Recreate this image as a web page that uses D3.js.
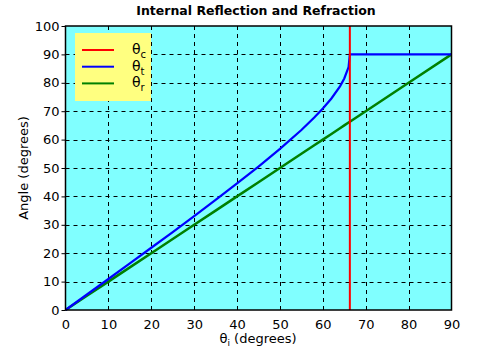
<!DOCTYPE html>
<html><head><meta charset="utf-8">
<script src="https://cdn.jsdelivr.net/npm/d3@7"></script>
<style>body{margin:0;background:#fff}svg{display:block;font-family:"DejaVu Sans",Verdana,sans-serif}</style>
</head><body><svg id="c" width="500" height="350"></svg>
<script>
const xTicks = [0,10,20,30,40,50,60,70,80,90];
const yTicks = [0,10,20,30,40,50,60,70,80,90,100];
const criticalAngle = 66.3;
const incidentAngles = [0,5,10,15,20,25,30,35,40,45,50,55,58,60,62,64,65,66,66.3,70,80,90];
const transmittedAngles = [0,5.46,10.92,16.41,21.92,27.46,33.07,38.75,44.55,50.5,56.71,63.38,67.75,70.94,74.47,78.76,81.52,85.53,90,90,90,90];
const reflectedAngles = [0,5,10,15,20,25,30,35,40,45,50,55,58,60,62,64,65,66,66.3,70,80,90];
const legendLabels = [{sym:"θ",sub:"c",color:"#ff0000"},{sym:"θ",sub:"t",color:"#0000ff"},{sym:"θ",sub:"r",color:"#008000"}];

const svg = d3.select("#c");
const m = {l:65.5, r:451.5, t:26, b:310};
const x = d3.scaleLinear().domain([0,90]).range([m.l,m.r]);
const y = d3.scaleLinear().domain([0,100]).range([m.b,m.t]);

svg.append("rect").attr("x",m.l).attr("y",m.t).attr("width",m.r-m.l).attr("height",m.b-m.t).attr("fill","#80ffff");

// grid
const g = svg.append("g").attr("stroke","#000").attr("stroke-dasharray","4,4").attr("stroke-width",1);
xTicks.slice(1,-1).forEach(t=>g.append("line").attr("x1",Math.round(x(t))+0.5).attr("x2",Math.round(x(t))+0.5).attr("y1",m.t).attr("y2",m.b));
yTicks.slice(1,-1).forEach(t=>g.append("line").attr("y1",Math.round(y(t))+0.5).attr("y2",Math.round(y(t))+0.5).attr("x1",m.l).attr("x2",m.r));

// data lines
const line = d3.line().x(d=>x(d[0])).y(d=>y(d[1]));
svg.append("path").datum(incidentAngles.map((a,i)=>[a,reflectedAngles[i]])).attr("d",line).attr("fill","none").attr("stroke","#008000").attr("stroke-width",2.5);
svg.append("path").datum(incidentAngles.map((a,i)=>[a,transmittedAngles[i]])).attr("d",line).attr("fill","none").attr("stroke","#0000ff").attr("stroke-width",2.2);
svg.append("line").attr("x1",x(criticalAngle)).attr("x2",x(criticalAngle)).attr("y1",m.t).attr("y2",m.b).attr("stroke","#ff0000").attr("stroke-width",2);

// frame
svg.append("rect").attr("x",m.l).attr("y",m.t).attr("width",m.r-m.l).attr("height",m.b-m.t).attr("fill","none").attr("stroke","#000").attr("stroke-width",1.5);

// axes
const xa = svg.append("g").attr("transform",`translate(0,${m.b})`).call(d3.axisBottom(x).tickValues(xTicks).tickSize(0).tickPadding(10));
const ya = svg.append("g").attr("transform",`translate(${m.l},0)`).call(d3.axisLeft(y).tickValues(yTicks).tickSize(4).tickPadding(2));
[xa,ya].forEach(a=>{a.select(".domain").remove();a.selectAll("text").attr("font-size",13).attr("fill","#000").attr("font-family","DejaVu Sans");a.selectAll("line").attr("stroke","#000");});

// title
svg.append("text").attr("x",256).attr("y",15).attr("text-anchor","middle").attr("font-size",12.5).attr("font-weight","bold").attr("fill","#000").text("Internal Reflection and Refraction");
// y label
svg.append("text").attr("transform","translate(28,168) rotate(-90)").attr("text-anchor","middle").attr("font-size",13).text("Angle (degrees)");
// x label
const xl = svg.append("text").attr("x",258).attr("y",343).attr("text-anchor","middle").attr("font-size",13);
xl.append("tspan").text("θ");
xl.append("tspan").attr("font-size",9).attr("dy",3).text("i");
xl.append("tspan").attr("dy",-3).text(" (degrees)");

// legend
svg.append("rect").attr("x",75).attr("y",33).attr("width",76).attr("height",68).attr("fill","#ffff80");
legendLabels.forEach((d,i)=>{
  const yy = 50 + i*16.7;
  svg.append("line").attr("x1",82).attr("x2",114).attr("y1",yy).attr("y2",yy).attr("stroke",d.color).attr("stroke-width",2);
  const t = svg.append("text").attr("x",132).attr("y",yy+4).attr("font-size",14);
  t.append("tspan").text(d.sym);
  t.append("tspan").attr("font-size",10).attr("dy",4).text(d.sub);
});
</script></body></html>
